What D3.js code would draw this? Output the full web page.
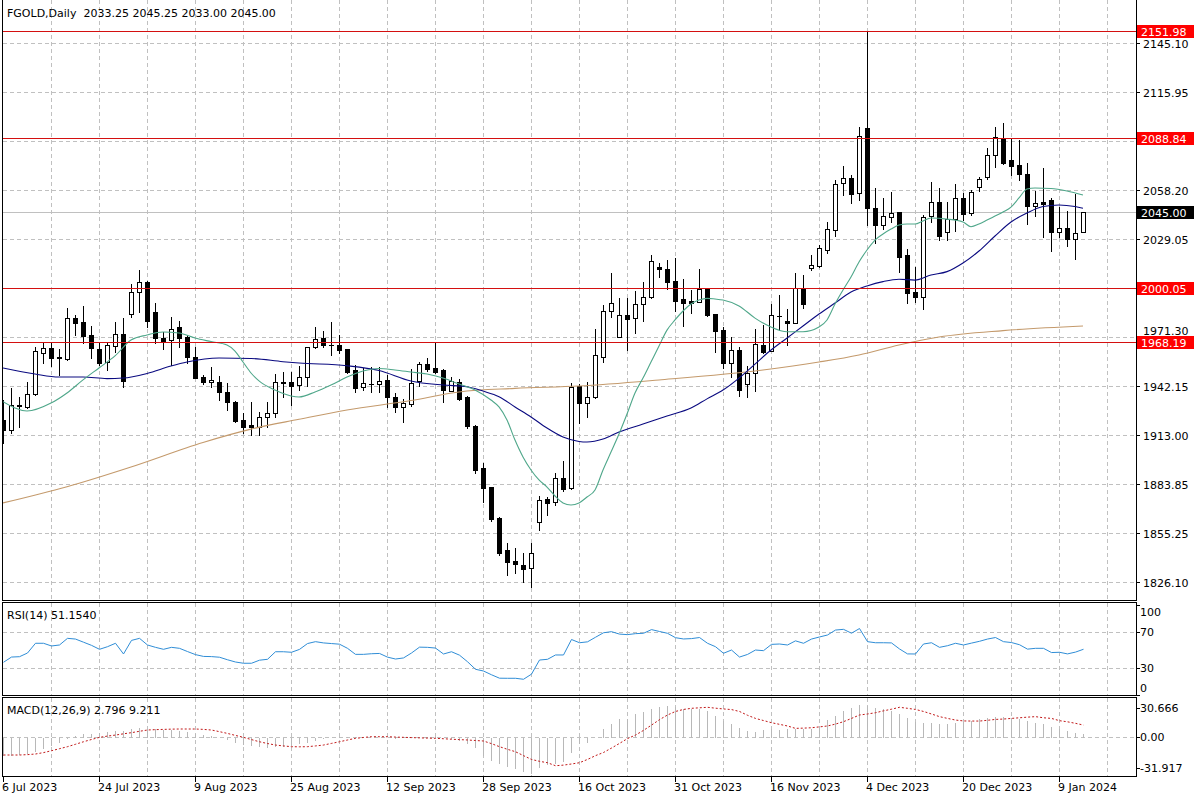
<!DOCTYPE html>
<html><head><meta charset="utf-8">
<script src="https://cdn.jsdelivr.net/npm/d3@7"></script>
<style>
html,body{margin:0;padding:0;background:#fff;}
svg{display:block;font-family:'DejaVu Sans',sans-serif;font-size:11px;}
</style></head><body>
<svg id="c" width="1200" height="800"></svg>
<script>
// ---------------- DATA ----------------
const symbolTitle = "FGOLD,Daily  2033.25 2045.25 2033.00 2045.00";
const rsiTitle = "RSI(14) 51.1540";
const macdTitle = "MACD(12,26,9) 2.796 9.211";

const opens = [1922.0,1916.0,1930.6,1929.9,1937.2,1961.5,1964.4,1959.1,1957.9,1982.2,
1980.2,1972.3,1964.0,1956.5,1966.0,1972.9,1984.5,1997.6,2003.5,1985.7,
1970.3,1969.3,1977.2,1971.3,1959.1,1947.6,1944.3,1944.3,1938.7,1932.5,
1922.0,1919.0,1918.0,1923.6,1926.3,1944.5,1944.3,1942.7,1947.6,1965.0,
1970.3,1966.6,1966.4,1964.0,1951.6,1941.7,1943.5,1943.3,1945.7,1935.4,
1929.9,1931.5,1945.2,1955.1,1952.6,1951.6,1939.3,1944.7,1935.4,1918.4,
1893.4,1882.2,1863.8,1845.1,1838.5,1836.2,1834.2,1861.4,1875.2,1873.3,
1887.5,1881.6,1942.1,1932.2,1935.8,1959.4,1986.7,1971.3,1984.1,1982.2,
1990.6,1994.6,2012.4,2011.2,2004.2,1993.4,1992.6,1992.0,1999.3,1984.7,
1975.2,1955.5,1963.4,1943.3,1950.0,1966.4,1963.0,1983.8,1980.8,1979.6,
2000.0,2011.8,2013.3,2022.6,2034.4,2062.1,2065.0,2056.5,2094.6,2047.3,
2037.4,2042.3,2044.9,2019.6,1997.6,1994.6,2042.9,2050.8,2033.4,2040.7,
2053.2,2044.3,2059.7,2065.6,2078.8,2088.7,2075.9,2072.9,2067.6,2048.6,
2051.2,2052.2,2033.4,2035.4,2028.9,2033.25];
const highs = [1933.8,1940.9,1935.8,1944.3,1965.0,1967.4,1967.4,1963.8,1988.1,1984.1,
1989.5,1977.6,1967.4,1968.3,1979.8,1982.2,2002.3,2010.8,2004.5,1991.1,
1974.2,1983.1,1980.8,1972.3,1965.4,1948.5,1953.5,1948.0,1943.7,1933.0,
1925.9,1932.8,1926.9,1932.8,1949.2,1950.6,1950.6,1953.9,1965.4,1976.8,
1974.8,1979.8,1972.3,1964.3,1954.5,1952.6,1953.2,1953.2,1948.6,1937.8,
1934.2,1952.0,1956.5,1958.5,1968.3,1952.0,1947.6,1946.1,1936.0,1919.0,
1896.4,1882.5,1864.8,1849.0,1846.1,1843.1,1849.0,1877.0,1876.6,1890.4,
1897.7,1944.1,1943.3,1944.7,1975.7,1990.0,2009.2,1994.0,1994.0,1998.3,
2003.8,2019.6,2015.1,2016.7,2018.0,2005.3,1998.9,2011.2,2000.3,1985.0,
1977.2,1970.9,1965.4,1953.9,1975.7,1978.2,1990.6,1996.0,1987.5,2009.2,
2007.8,2019.6,2025.5,2039.3,2064.0,2072.5,2067.0,2095.6,2151.98,2059.1,
2053.2,2057.1,2045.2,2023.0,2012.7,2043.3,2062.7,2059.1,2051.2,2061.5,
2056.1,2058.0,2066.0,2082.8,2095.6,2097.6,2088.7,2087.7,2073.9,2057.7,
2070.9,2053.6,2048.2,2045.8,2055.7,2045.25];
const lows = [1908.4,1914.3,1918.0,1928.9,1936.8,1955.9,1953.9,1948.6,1957.5,1972.3,
1967.4,1958.5,1954.5,1951.6,1962.4,1941.3,1983.1,1986.1,1976.8,1967.4,
1964.0,1954.5,1965.4,1955.5,1946.7,1943.5,1941.7,1933.8,1927.9,1921.0,
1914.1,1913.1,1913.1,1918.0,1924.0,1935.8,1930.9,1939.7,1942.1,1964.6,
1965.0,1960.5,1961.5,1950.0,1938.7,1939.7,1938.7,1938.7,1929.9,1926.9,
1921.0,1930.3,1942.1,1951.2,1950.0,1932.8,1939.0,1933.8,1917.0,1890.4,
1873.6,1862.4,1842.1,1830.2,1831.3,1826.3,1823.3,1856.9,1865.8,1871.7,
1880.1,1881.3,1920.0,1924.0,1934.8,1956.5,1982.8,1970.9,1963.4,1973.3,
1980.8,1994.2,2006.8,1999.3,1986.7,1977.6,1985.5,1991.6,1983.5,1962.4,
1952.6,1947.6,1936.2,1935.4,1939.3,1961.5,1962.6,1975.2,1966.4,1979.2,
1988.1,2010.8,2012.7,2021.0,2030.9,2055.1,2050.6,2052.2,2037.4,2026.9,
2034.8,2039.3,2009.8,1991.0,1992.0,1987.5,2039.0,2028.5,2028.5,2034.0,
2040.3,2043.5,2057.7,2064.4,2071.9,2073.5,2067.0,2064.0,2037.8,2042.7,
2030.5,2022.2,2030.5,2024.9,2017.1,2033.0];
const closes = [1916.0,1930.9,1930.2,1937.4,1962.8,1964.4,1958.5,1958.7,1982.2,1979.6,
1971.7,1964.4,1955.9,1966.4,1972.9,1945.1,1997.6,2003.5,1980.8,1970.3,
1968.3,1975.8,1970.7,1959.1,1947.0,1944.3,1945.7,1938.4,1932.8,1921.6,
1918.0,1917.7,1923.6,1925.9,1944.3,1944.1,1942.1,1947.6,1965.0,1969.7,
1966.4,1966.2,1963.4,1950.6,1941.1,1944.1,1943.1,1945.2,1935.8,1929.9,
1931.9,1944.1,1955.1,1952.0,1950.6,1939.7,1945.1,1934.4,1918.4,1892.4,
1881.6,1863.4,1843.1,1838.1,1836.6,1833.6,1843.1,1874.6,1873.0,1887.5,
1881.0,1941.7,1932.2,1935.8,1960.5,1986.7,1991.0,1984.1,1981.6,1990.6,
1994.6,2016.3,2011.2,2003.8,1992.6,1991.4,1991.4,1999.3,1984.1,1974.8,
1955.5,1963.4,1939.7,1949.6,1967.0,1962.4,1984.1,1983.4,1979.6,2000.0,
1990.6,2013.7,2023.6,2034.8,2061.7,2065.0,2055.6,2090.1,2047.3,2037.4,
2042.9,2044.7,2018.3,1997.0,1994.6,2042.3,2050.8,2031.1,2040.9,2053.2,
2043.7,2057.1,2064.4,2078.8,2089.7,2074.3,2072.3,2067.6,2048.8,2050.2,
2049.8,2033.4,2035.4,2028.9,2032.5,2045.0];

// moving averages: [bar index, value]
const maFast = [[0,1932.8],[3,1927.3],[6,1932.0],[8,1938.0],[10,1945.7],[12,1952.8],[14,1959.9],[16,1969.3],[18,1972.3],[20,1974.1],[22,1973.5],[24,1970.5],[26,1968.4],[28,1966.4],[29,1962.8],[30,1956.3],[31,1949.8],[32,1945.1],[34,1939.7],[36,1936.2],[37,1935.6],[39,1938.6],[41,1942.7],[43,1947.4],[45,1951.0],[47,1952.5],[49,1951.6],[51,1950.4],[53,1949.2],[55,1946.8],[57,1943.3],[59,1939.7],[61,1933.8],[62,1929.7],[63,1922.0],[64,1910.1],[65,1900.1],[66,1892.4],[67,1886.5],[68,1882.3],[69,1877.0],[70,1872.9],[71,1871.7],[72,1872.9],[73,1876.4],[74,1880.6],[75,1892.4],[76,1903.0],[77,1913.7],[78,1925.5],[79,1938.0],[80,1946.8],[81,1956.3],[82,1965.8],[83,1975.2],[84,1981.2],[85,1986.5],[86,1990.6],[87,1993.0],[88,1994.0],[89,1993.6],[90,1993.0],[92,1989.5],[94,1982.3],[96,1977.0],[98,1974.2],[100,1974.2],[102,1977.0],[103,1981.2],[104,1990.6],[105,1998.9],[106,2006.6],[107,2015.5],[108,2022.6],[109,2028.5],[110,2032.1],[111,2035.0],[112,2037.4],[113,2038.0],[114,2038.0],[115,2039.8],[116,2041.5],[118,2040.9],[120,2039.2],[121,2036.4],[122,2038.0],[123,2040.3],[124,2042.7],[125,2045.1],[126,2048.0],[127,2053.4],[128,2058.7],[129,2059.3],[131,2059.0],[133,2057.5],[135,2055.1]];
const maMid = [[0,1952.8],[4,1949.2],[7,1947.4],[10,1947.4],[13,1946.5],[15,1946.8],[18,1949.5],[21,1953.9],[23,1956.3],[27,1958.7],[31,1958.4],[35,1956.5],[37,1955.7],[43,1954.1],[47,1951.3],[51,1945.1],[55,1942.7],[58,1941.7],[60,1939.1],[62,1935.8],[64,1929.7],[66,1923.8],[68,1917.2],[70,1911.9],[72,1909.3],[73,1909.0],[75,1910.7],[77,1914.9],[80,1919.6],[83,1924.4],[86,1929.1],[88,1934.5],[90,1939.7],[92,1946.8],[94,1955.1],[96,1963.4],[98,1970.5],[100,1977.6],[102,1984.7],[104,1991.2],[106,1997.7],[108,2001.3],[110,2003.9],[112,2005.3],[114,2004.8],[116,2007.8],[118,2009.8],[120,2014.9],[122,2022.0],[124,2030.9],[126,2039.2],[128,2044.5],[130,2048.3],[132,2049.2],[134,2048.3],[135,2047.3]];
const maSlow = [[0,1872.9],[8,1882.5],[16,1894.2],[25,1908.7],[31,1916.6],[37,1922.4],[43,1927.9],[51,1933.5],[57,1938.6],[64,1940.7],[72,1942.1],[82,1945.7],[95,1951.6],[102,1956.3],[107,1960.5],[112,1966.4],[117,1971.1],[125,1974.9],[135,1977.6]];

const rsi = [36.7,42.5,42.9,47.0,57.8,57.8,54.8,55.9,63.3,62.5,
59.0,55.5,51.1,54.0,57.8,45.9,61.0,63.3,55.9,53.3,
51.1,53.3,52.2,48.6,45.2,43.2,43.0,42.3,39.5,37.0,
35.6,35.6,39.0,40.0,48.4,48.4,47.8,51.0,57.5,59.6,
58.2,57.5,56.8,52.2,45.5,45.5,46.2,46.5,42.4,40.3,
41.5,47.0,53.5,53.3,52.5,45.9,48.4,44.6,37.3,28.9,
27.0,22.8,19.0,18.9,18.9,17.8,23.5,39.2,40.0,44.8,
44.8,62.0,58.4,59.4,64.5,69.5,70.7,68.0,67.4,68.5,
68.9,73.0,70.9,68.9,64.0,62.6,63.0,64.2,57.8,54.0,
46.7,50.3,42.5,45.4,50.3,49.6,56.6,57.0,55.9,60.5,
57.8,62.5,64.8,67.0,72.5,73.3,69.0,74.2,59.6,58.4,
58.4,58.2,51.5,46.0,45.9,57.0,58.4,53.3,55.1,57.8,
55.9,58.0,60.0,62.5,64.2,59.6,58.6,56.2,51.3,52.2,
52.2,47.5,47.8,46.0,48.0,51.154];

const macdMain = [-14.5,-14.5,-14.0,-13.2,-11.1,-9.2,-6.6,-4.0,-1.3,1.3,
2.6,3.2,3.7,4.5,5.3,5.3,6.6,7.4,7.1,6.6,
6.1,5.8,5.3,4.5,3.2,2.1,1.3,0.0,-2.1,-4.0,
-5.8,-6.9,-7.4,-7.9,-7.4,-7.1,-6.6,-5.3,-4.0,-2.6,
-1.3,-0.5,0.3,0.5,0.3,0.2,0.1,0.0,-0.5,-0.8,
-0.5,-0.3,0.5,0.5,0.3,-0.5,-1.0,-2.5,-5.3,-7.9,
-14.5,-18.5,-21.1,-23.5,-25.1,-27.0,-28.5,-24.0,-21.5,-21.1,
-19.5,-12.0,-5.0,-4.0,-0.5,6.6,10.6,14.5,14.5,18.5,
20.6,22.5,24.3,25.1,24.3,23.0,22.5,22.5,21.1,17.2,
13.5,11.1,7.9,5.3,4.8,5.8,6.6,5.8,6.6,6.6,
6.6,7.1,9.2,13.8,17.2,21.1,23.3,25.9,25.1,23.8,
22.5,21.1,18.5,15.9,12.7,11.9,11.9,11.1,11.1,11.9,
12.7,13.5,14.5,15.3,16.4,16.4,15.9,14.5,13.2,11.9,
10.6,8.5,6.6,5.3,4.0,2.796];
const macdSignal = [-14.5,-14.5,-14.5,-14.2,-13.7,-12.6,-11.1,-9.5,-7.9,-6.0,
-4.0,-2.2,-0.5,0.5,1.3,2.3,3.2,4.3,5.3,5.6,
5.8,6.0,6.1,6.1,6.1,5.8,5.3,4.0,2.6,1.0,
-0.5,-2.3,-4.0,-5.4,-6.6,-7.3,-7.9,-8.0,-7.9,-7.3,
-6.6,-5.3,-4.0,-2.6,-1.3,-0.6,0.0,0.0,0.0,-0.3,
-0.5,-0.7,-0.9,-1.1,-1.3,-1.6,-2.0,-2.3,-2.6,-3.0,
-3.4,-5.5,-7.9,-10.0,-11.9,-15.0,-18.0,-19.5,-20.6,-23.0,
-22.5,-21.6,-20.6,-18.0,-15.0,-12.5,-9.0,-5.3,-1.5,1.3,
5.0,9.2,13.5,17.2,20.0,21.6,22.5,22.9,23.3,22.6,
22.0,21.5,20.0,17.0,14.5,12.8,11.1,9.8,8.5,6.6,
6.8,7.1,7.8,8.5,10.0,11.9,14.5,17.2,18.0,19.0,
20.5,21.8,23.3,22.5,21.6,20.0,18.0,15.9,14.5,13.2,
12.5,12.4,12.4,13.0,13.7,14.0,14.5,15.0,15.5,15.9,
15.0,14.5,12.7,11.8,10.6,9.211];

const priceTicks = [2145.10,2115.95,2087.05,2058.20,2029.05,2000.15,1971.30,1942.15,1913.00,1883.85,1855.25,1826.10];
const priceTickLabels = ["2145.10","2115.95","2087.05","2058.20","2029.05","2000.15","1971.30","1942.15","1913.00","1883.85","1855.25","1826.10"];
const levels = [2151.98,2088.84,2000.05,1968.19];
const levelLabels = ["2151.98","2088.84","2000.05","1968.19"];
const lastPrice = 2045.00;
const lastPriceLabel = "2045.00";
const dateTickIdx = [0,12,24,36,48,60,72,84,96,108,120,132];
const dateTickLabels = ["6 Jul 2023","24 Jul 2023","9 Aug 2023","25 Aug 2023","12 Sep 2023","28 Sep 2023","16 Oct 2023","31 Oct 2023","16 Nov 2023","4 Dec 2023","20 Dec 2023","9 Jan 2024"];
const rsiTicks = [100,70,30,0];
const rsiGrid = [70,30];
const macdTicks = [30.666,0,-31.917];
const macdTickLabels = ["30.666","0.00","-31.917"];
const macdGrid = [0];

// ---------------- LAYOUT ----------------
const L = 3, R = 1136;
const P = {
  main: {top: 0, bottom: 600.5},
  rsi:  {top: 602.5, bottom: 695.5},
  macd: {top: 697.5, bottom: 776.5}
};
const x = d3.scaleLinear().domain([0, 1]).range([3, 11]);       // 8 px per bar
const yMain = d3.scaleLinear().domain([1814.86, 2168.2]).range([601, 4]);
const yRsi  = d3.scaleLinear().domain([0, 100]).range([695.3, 605.3]);
const yMacd = d3.scaleLinear().domain([-31.917, 30.666]).range([777, 698]);
const px = v => Math.round(v) + 0.5;

const svg = d3.select("#c");
const defs = svg.append("defs");
function clip(id, p){
  defs.append("clipPath").attr("id", id).append("rect")
    .attr("x", L).attr("y", p.top).attr("width", R - L).attr("height", p.bottom - p.top);
}
clip("cMain", P.main); clip("cRsi", P.rsi); clip("cMacd", P.macd);

const GRID = "#c0c0c0";
const gridIdx = d3.range(6, 142, 6);

function vGrid(g, p){
  g.selectAll(null).data(gridIdx).join("line")
    .attr("x1", d => px(x(d))).attr("x2", d => px(x(d)))
    .attr("y1", p.top).attr("y2", p.bottom)
    .attr("stroke", GRID).attr("stroke-dasharray", "4,3").attr("shape-rendering","crispEdges");
}
function hGrid(g, vals, scale){
  g.selectAll(null).data(vals).join("line")
    .attr("x1", L).attr("x2", R)
    .attr("y1", d => px(scale(d))).attr("y2", d => px(scale(d)))
    .attr("stroke", GRID).attr("stroke-dasharray", "4,3").attr("shape-rendering","crispEdges");
}

// ---------------- MAIN PANEL ----------------
const gMain = svg.append("g").attr("clip-path", "url(#cMain)");
vGrid(gMain, P.main);
hGrid(gMain, priceTicks, yMain);

// current price line
gMain.append("line").attr("x1", L).attr("x2", R)
  .attr("y1", px(yMain(lastPrice))).attr("y2", px(yMain(lastPrice)))
  .attr("stroke", "#c0c0c0").attr("shape-rendering","crispEdges");

// candles
const bars = d3.range(opens.length);
const gC = gMain.append("g").attr("shape-rendering","crispEdges");
bars.forEach(i => {
  const X = Math.round(x(i));
  const o = opens[i], c = closes[i];
  gC.append("line").attr("x1", X + 0.5).attr("x2", X + 0.5)
    .attr("y1", Math.round(yMain(highs[i]))).attr("y2", Math.round(yMain(lows[i])) + 1)
    .attr("stroke", "#000");
  const top = Math.round(yMain(Math.max(o, c)));
  const bot = Math.round(yMain(Math.min(o, c)));
  const h = bot - top;
  if (h < 1) {
    gC.append("line").attr("x1", X - 2).attr("x2", X + 3)
      .attr("y1", top + 0.5).attr("y2", top + 0.5).attr("stroke", "#000");
  } else {
    gC.append("rect").attr("x", X - 1.5).attr("y", top + 0.5)
      .attr("width", 4).attr("height", h)
      .attr("fill", c >= o ? "#fff" : "#000").attr("stroke", "#000");
  }
});

// moving averages
const maLine = d3.line().x(d => x(d[0])).y(d => yMain(d[1])).curve(d3.curveMonotoneX);
gMain.append("path").attr("d", maLine(maSlow)).attr("fill","none").attr("stroke","#c49a6c").attr("stroke-width",1.1);
gMain.append("path").attr("d", maLine(maMid)).attr("fill","none").attr("stroke","#0a0a80").attr("stroke-width",1.1);
gMain.append("path").attr("d", maLine(maFast)).attr("fill","none").attr("stroke","#4fa78a").attr("stroke-width",1.1);

// horizontal levels
gMain.selectAll(null).data(levels).join("line")
  .attr("x1", L).attr("x2", R)
  .attr("y1", d => px(yMain(d))).attr("y2", d => px(yMain(d)))
  .attr("stroke", "#d41010").attr("shape-rendering","crispEdges");

// ---------------- RSI PANEL ----------------
const gRsi = svg.append("g").attr("clip-path", "url(#cRsi)");
vGrid(gRsi, P.rsi);
hGrid(gRsi, rsiGrid, yRsi);
gRsi.append("path")
  .attr("d", d3.line().x((d, i) => x(i) + 0.5).y(d => yRsi(d))(rsi))
  .attr("fill","none").attr("stroke","#2f8dd6").attr("stroke-width",1);

// ---------------- MACD PANEL ----------------
const gMacd = svg.append("g").attr("clip-path", "url(#cMacd)");
vGrid(gMacd, P.macd);
hGrid(gMacd, macdGrid, yMacd);
gMacd.append("g").attr("shape-rendering","crispEdges")
  .selectAll("line").data(macdMain).join("line")
  .attr("x1", (d, i) => Math.round(x(i)) + 0.5).attr("x2", (d, i) => Math.round(x(i)) + 0.5)
  .attr("y1", Math.round(yMacd(0)) + 0.5).attr("y2", d => Math.round(yMacd(d)) + 0.5)
  .attr("stroke", "#b8b8b8");
gMacd.append("path")
  .attr("d", d3.line().x((d, i) => x(i) + 0.5).y(d => yMacd(d))(macdSignal))
  .attr("fill","none").attr("stroke","#c01818").attr("stroke-width",1).attr("stroke-dasharray","2,2");

// ---------------- FRAMES ----------------
const fr = svg.append("g").attr("fill","none").attr("stroke","#000").attr("shape-rendering","crispEdges");
fr.append("line").attr("x1", 2.5).attr("x2", 2.5).attr("y1", 0).attr("y2", P.main.bottom);
fr.append("line").attr("x1", 2).attr("x2", R + 1).attr("y1", P.main.bottom).attr("y2", P.main.bottom);
fr.append("line").attr("x1", R + 0.5).attr("x2", R + 0.5).attr("y1", 0).attr("y2", P.main.bottom);
[P.rsi, P.macd].forEach(p => {
  fr.append("rect").attr("x", 2.5).attr("y", p.top).attr("width", R - 2).attr("height", p.bottom - p.top);
});

// ---------------- AXES / LABELS ----------------
const txt = svg.append("g").attr("fill", "#000");

// right price axis
priceTicks.forEach((v, k) => {
  const y = Math.round(yMain(v));
  txt.append("line").attr("x1", R).attr("x2", R + 4).attr("y1", y + 0.5).attr("y2", y + 0.5)
    .attr("stroke","#000").attr("shape-rendering","crispEdges");
  const near = levels.map(l => Math.round(yMain(l)) - y);
  const covered = near.some(d => Math.abs(d) < 4);
  if (!covered) {
    // if a level label sits just below, lift the tick text so both stay readable
    const below = near.filter(d => d >= 4 && d < 12);
    let base = y + 4.5;
    if (below.length) base = Math.min(base, y + below[0] - 7);
    txt.append("text").attr("x", R + 7).attr("y", base).text(priceTickLabels[k]);
  }
});
// level labels
levels.forEach((v, k) => {
  const y = Math.round(yMain(v));
  txt.append("rect").attr("x", R + 1).attr("y", y - 6).attr("width", 57).attr("height", 13).attr("fill", "#ff0000");
  txt.append("text").attr("x", R + 5).attr("y", y + 5).attr("fill", "#fff").text(levelLabels[k]);
});
{
  const y = Math.round(yMain(lastPrice));
  txt.append("rect").attr("x", R + 1).attr("y", y - 6).attr("width", 57).attr("height", 13).attr("fill", "#000");
  txt.append("text").attr("x", R + 5).attr("y", y + 5).attr("fill", "#fff").text(lastPriceLabel);
}

// RSI axis labels
rsiTicks.forEach(v => {
  const y0 = yRsi(v);
  const y = Math.max(P.rsi.top + 9.5, Math.min(P.rsi.bottom - 7.5, y0));
  txt.append("line").attr("x1", R).attr("x2", R + 4).attr("y1", px(y0)).attr("y2", px(y0))
    .attr("stroke","#000").attr("shape-rendering","crispEdges");
  txt.append("text").attr("x", R + 4).attr("y", y + 4).text(String(v));
});
// MACD axis labels
macdTicks.forEach((v, k) => {
  const y0 = yMacd(v);
  const y = Math.max(P.macd.top + 10, Math.min(P.macd.bottom - 8.5, y0));
  txt.append("line").attr("x1", R).attr("x2", R + 4).attr("y1", px(y)).attr("y2", px(y))
    .attr("stroke","#000").attr("shape-rendering","crispEdges");
  txt.append("text").attr("x", R + 4).attr("y", y + 4).text(macdTickLabels[k]);
});

// date axis
dateTickIdx.forEach((i, k) => {
  const X = Math.round(x(i));
  txt.append("line").attr("x1", X + 0.5).attr("x2", X + 0.5).attr("y1", P.macd.bottom).attr("y2", P.macd.bottom + 5)
    .attr("stroke","#000").attr("shape-rendering","crispEdges");
  txt.append("text").attr("x", X - 1).attr("y", 791).text(dateTickLabels[k]);
});

// titles
txt.append("text").attr("x", 7).attr("y", 17).style("white-space","pre").text(symbolTitle);
txt.append("text").attr("x", 7).attr("y", 619).text(rsiTitle);
txt.append("text").attr("x", 7).attr("y", 714).text(macdTitle);
</script>
</body></html>
